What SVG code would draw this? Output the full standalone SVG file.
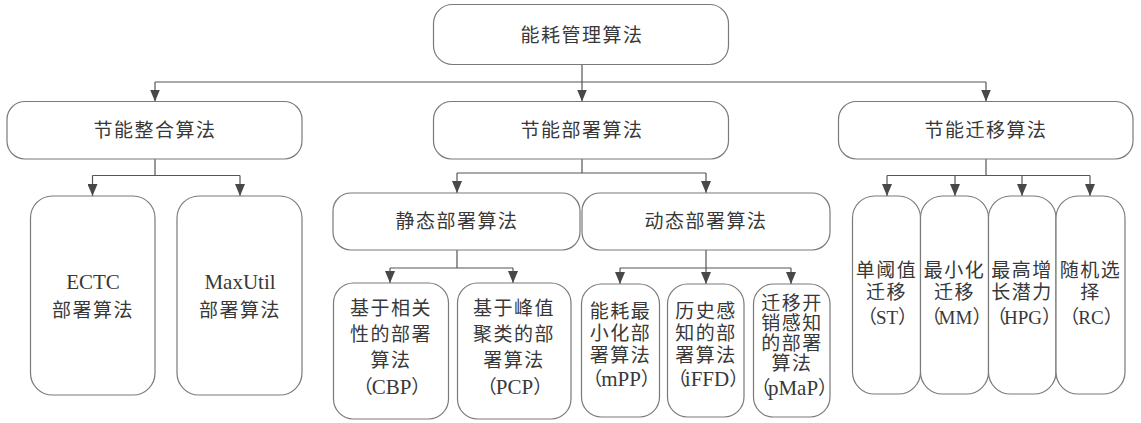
<svg xmlns="http://www.w3.org/2000/svg" width="1141" height="423" viewBox="0 0 1141 423">
<style>
.box{fill:#fff;stroke:#7a7a7a;stroke-width:1.2}
.ln{fill:none;stroke:#555;stroke-width:1.2}
text{font-family:"Liberation Serif","Noto Sans CJK SC",serif;font-size:19px;fill:#383838;text-anchor:middle;letter-spacing:1.5px}
.lat{font-size:21px;letter-spacing:0}
.par{letter-spacing:-1px}
.tight{letter-spacing:-2.5px}
.par .lat,.tight .lat{letter-spacing:0}
.sm{font-size:19px}
</style>
<defs>
<marker id="ah" viewBox="0 0 12 10" refX="12" refY="5" markerWidth="12" markerHeight="10" markerUnits="userSpaceOnUse" orient="auto">
<path d="M0,0 L12,5 L0,10 z" fill="#484848"/>
</marker>
</defs>
<rect width="1141" height="423" fill="#fff"/>
<g id="connectors">
<path class="ln" d="M582,64.5 V82 M155,82 H986"/>
<path class="ln" d="M155,82 V101.5" marker-end="url(#ah)"/>
<path class="ln" d="M582,82 V101.5" marker-end="url(#ah)"/>
<path class="ln" d="M986,82 V101.5" marker-end="url(#ah)"/>
<path class="ln" d="M155,159 V175.5 M92.5,175.5 H240"/>
<path class="ln" d="M92.5,175.5 V196" marker-end="url(#ah)"/>
<path class="ln" d="M240,175.5 V196" marker-end="url(#ah)"/>
<path class="ln" d="M582,159 V173 M457,173 H706"/>
<path class="ln" d="M457,173 V193" marker-end="url(#ah)"/>
<path class="ln" d="M706,173 V193" marker-end="url(#ah)"/>
<path class="ln" d="M457,250 V268 M390,268 H513"/>
<path class="ln" d="M390,268 V283" marker-end="url(#ah)"/>
<path class="ln" d="M513,268 V283" marker-end="url(#ah)"/>
<path class="ln" d="M706,250 V268 M620,268 H791"/>
<path class="ln" d="M620,268 V284" marker-end="url(#ah)"/>
<path class="ln" d="M706,268 V284" marker-end="url(#ah)"/>
<path class="ln" d="M791,268 V284" marker-end="url(#ah)"/>
<path class="ln" d="M986,159 V175.5 M887,175.5 H1090"/>
<path class="ln" d="M887,175.5 V196" marker-end="url(#ah)"/>
<path class="ln" d="M955,175.5 V196" marker-end="url(#ah)"/>
<path class="ln" d="M1022,175.5 V196" marker-end="url(#ah)"/>
<path class="ln" d="M1090,175.5 V196" marker-end="url(#ah)"/>
</g>
<g id="root"><rect class="box" x="433.5" y="4.5" width="295" height="60" rx="19"/><text x="582" y="42">能耗管理算法</text></g>
<g id="consolidation"><rect class="box" x="7" y="101.5" width="295" height="57.5" rx="18"/><text x="155" y="137">节能整合算法</text></g>
<g id="placement"><rect class="box" x="433.5" y="101.5" width="295" height="57.5" rx="18"/><text x="582" y="137">节能部署算法</text></g>
<g id="migration"><rect class="box" x="838.5" y="101.5" width="294.5" height="57.5" rx="18"/><text x="986" y="137">节能迁移算法</text></g>
<g id="ectc"><rect class="box" x="30.5" y="196" width="124.5" height="199" rx="22"/><text class="lat" x="93" y="289">ECTC</text><text x="93" y="317">部署算法</text></g>
<g id="maxutil"><rect class="box" x="177" y="196" width="125" height="199" rx="22"/><text class="lat" x="240" y="289">MaxUtil</text><text x="240" y="317">部署算法</text></g>
<g id="static"><rect class="box" x="333" y="193" width="247" height="57" rx="18"/><text x="457" y="228">静态部署算法</text></g>
<g id="dynamic"><rect class="box" x="582" y="193" width="248" height="57" rx="18"/><text x="706" y="228">动态部署算法</text></g>
<g id="cbp"><rect class="box" x="333.5" y="283" width="115" height="136" rx="20"/>
<text x="391" y="315">基于相关</text><text x="391" y="341">性的部署</text><text x="391" y="367">算法</text><text class="par" x="391.5" y="394">（<tspan class="lat">CBP</tspan>）</text></g>
<g id="pcp"><rect class="box" x="457.5" y="283" width="113.5" height="136" rx="20"/>
<text x="514" y="315">基于峰值</text><text x="514" y="341">聚类的部</text><text x="514" y="367">署算法</text><text class="par" x="514.5" y="394">（<tspan class="lat">PCP</tspan>）</text></g>
<g id="mpp"><rect class="box" x="581.5" y="284" width="78" height="133" rx="20"/>
<text x="620.5" y="318">能耗最</text><text x="620.5" y="340">小化部</text><text x="620.5" y="362">署算法</text><text class="par" x="621" y="386">（<tspan class="lat">mPP</tspan>）</text></g>
<g id="iffd"><rect class="box" x="667.5" y="284" width="76.5" height="133" rx="20"/>
<text x="706" y="318">历史感</text><text x="706" y="340">知的部</text><text x="706" y="362">署算法</text><text class="tight" x="707" y="386">（<tspan class="lat">iFFD</tspan>）</text></g>
<g id="pmap"><rect class="box" x="753.5" y="284" width="76.5" height="133" rx="20"/>
<text x="792" y="310">迁移开</text><text x="792" y="330">销感知</text><text x="792" y="350">的部署</text><text x="792" y="370">算法</text><text class="tight" x="793" y="395">（<tspan class="lat">pMaP</tspan>）</text></g>
<g id="st"><rect class="box" x="852.5" y="196" width="68" height="198" rx="22"/>
<text x="886.5" y="277">单阈值</text><text x="886.5" y="299">迁移</text><text class="par" x="887" y="324">（<tspan class="lat sm">ST</tspan>）</text></g>
<g id="mm"><rect class="box" x="920.5" y="196" width="68" height="198" rx="22"/>
<text x="954.5" y="277">最小化</text><text x="954.5" y="299">迁移</text><text class="tight" x="955.5" y="324">（<tspan class="lat sm">MM</tspan>）</text></g>
<g id="hpg"><rect class="box" x="988.5" y="196" width="67.5" height="198" rx="22"/>
<text x="1022" y="277">最高增</text><text x="1022" y="299">长潜力</text><text class="tight" x="1023" y="324">（<tspan class="lat sm">HPG</tspan>）</text></g>
<g id="rc"><rect class="box" x="1056" y="196" width="69" height="198" rx="22"/>
<text x="1090.5" y="277">随机选</text><text x="1090.5" y="299">择</text><text class="par" x="1091" y="324">（<tspan class="lat sm">RC</tspan>）</text></g>
</svg>
